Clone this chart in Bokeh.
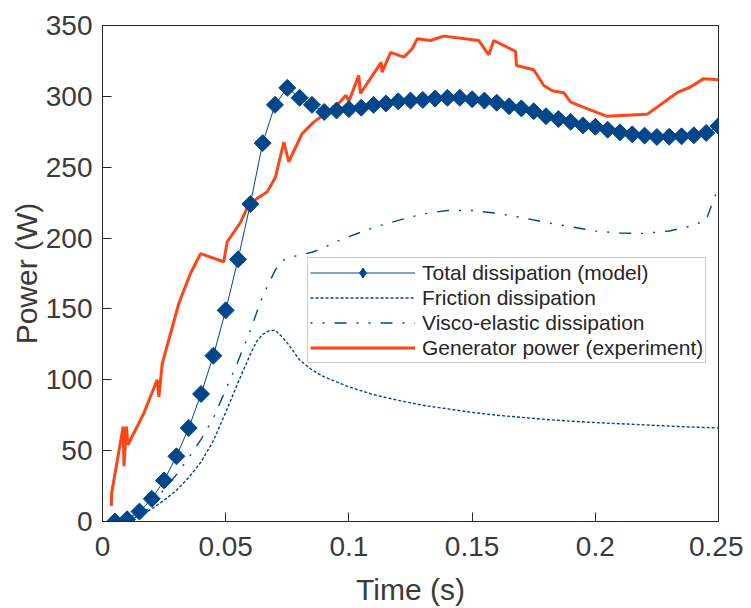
import numpy as np
from bokeh.plotting import figure
from bokeh.models import Range1d, FixedTicker, Legend, LegendItem
from bokeh.embed import file_html
from bokeh.resources import INLINE

# ---- data ----
t_total = [0.005, 0.01, 0.015, 0.02, 0.025, 0.03, 0.035, 0.04, 0.045, 0.05,
           0.055, 0.06, 0.065, 0.07, 0.075, 0.08, 0.085, 0.09, 0.095, 0.1,
           0.105, 0.11, 0.115, 0.12, 0.125, 0.13, 0.135, 0.14, 0.145, 0.15,
           0.155, 0.16, 0.165, 0.17, 0.175, 0.18, 0.185, 0.19, 0.195, 0.2,
           0.205, 0.21, 0.215, 0.22, 0.225, 0.23, 0.235, 0.24, 0.245, 0.25]
total = [0, 1.6, 7, 16, 29, 46, 66, 90, 117, 149,
         185, 224, 267, 294, 306, 299, 294, 289, 290, 291,
         292, 294, 295, 296.5, 297, 297.5, 298.5, 299, 299, 298,
         297, 295.5, 293, 291.5, 289.5, 286, 284, 282, 279.5, 278.5,
         276.5, 274.6, 273.2, 272.3, 271.3, 271.5, 271.8, 272.5, 274.2, 279]

t_fric = [0.005, 0.01, 0.015, 0.02, 0.025, 0.03, 0.035, 0.04, 0.045, 0.05,
          0.055, 0.06, 0.0625, 0.065, 0.0675, 0.07, 0.0725, 0.075, 0.0775, 0.08,
          0.085, 0.09, 0.095, 0.1, 0.11, 0.12, 0.13, 0.14, 0.15, 0.16,
          0.17, 0.18, 0.19, 0.2, 0.21, 0.22, 0.23, 0.24, 0.25]
friction = [0, 1, 4, 9, 15, 22, 31, 42, 57, 77,
            98, 118, 127, 132, 134.5, 135, 131, 126, 120, 114,
            107, 102, 98.5, 95, 89.5, 85.5, 82, 79.5, 77, 75,
            73.5, 72, 70.8, 69.8, 69, 68.2, 67.3, 66.6, 66]

t_visco = [0.005, 0.01, 0.015, 0.02, 0.025, 0.03, 0.035, 0.04, 0.045, 0.05,
           0.055, 0.06, 0.065, 0.07, 0.0725, 0.075, 0.08, 0.085, 0.09, 0.095,
           0.1, 0.11, 0.12, 0.13, 0.14, 0.15, 0.16, 0.17, 0.18, 0.19,
           0.2, 0.21, 0.22, 0.23, 0.24, 0.245, 0.25]
visco = [0, 1, 4, 11, 23, 33, 45, 58, 73, 93,
         113, 135, 159, 177, 183.5, 186, 188, 190, 193.5, 197.5,
         201, 207.5, 212.5, 217, 219.5, 219.5, 217.5, 214.5, 211, 208,
         205, 203.5, 203.3, 205, 209, 213, 236]

t_exp = [0.0036, 0.0037, 0.0084, 0.0087, 0.0097, 0.0103, 0.0168, 0.0222, 0.0229, 0.0242,
         0.031, 0.0357, 0.0398, 0.0492, 0.0506, 0.056, 0.0594, 0.0668, 0.0702, 0.0736,
         0.0756, 0.081, 0.0858, 0.0952, 0.0988, 0.1, 0.104, 0.1047, 0.1131, 0.1135,
         0.1169, 0.1223, 0.1257, 0.1277, 0.1331, 0.1385, 0.1527, 0.1568, 0.1588, 0.1676,
         0.168, 0.175, 0.1791, 0.1825, 0.1872, 0.19, 0.1967, 0.2045, 0.221, 0.2332,
         0.2386, 0.244, 0.25]
experiment = [11, 20, 67, 39, 67, 54, 76.5, 100, 88, 111,
              154, 175, 189, 183.3, 197.4, 211, 224, 232.6, 243, 267.8,
              253.7, 273.7, 282, 293.7, 300.7, 296.5, 314.8, 302, 324, 317,
              331, 327.7, 333.6, 340.6, 339.4, 342.5, 339.4, 329.3, 339.4, 331.7,
              321.8, 318.8, 307.7, 304, 302.6, 296, 291.3, 286, 287.3, 302.6,
              306.6, 312.5, 311.8]

x_ticks = [0, 0.05, 0.1, 0.15, 0.2, 0.25]
x_tick_labels = ["0", "0.05", "0.1", "0.15", "0.2", "0.25"]
y_ticks = [0, 50, 100, 150, 200, 250, 300, 350]

labels = ["Total dissipation (model)", "Friction dissipation",
          "Visco-elastic dissipation", "Generator power (experiment)"]

# ---- styling ----
BLUE = "#00468B"
RED = "#FF4517"
AXC = "#262626"
TXT = "#3a3a3a"
FONT = "Liberation Sans"

p = figure(width=743, height=608, output_backend="svg", toolbar_location=None,
           x_range=Range1d(0, 0.25), y_range=Range1d(0, 350),
           min_border_left=102, min_border_right=25, min_border_top=25,
           min_border_bottom=86, background_fill_color="white",
           border_fill_color="white")
p.grid.visible = False
p.outline_line_color = AXC
p.outline_line_width = 1
p.outline_line_alpha = 1

p.xaxis.ticker = FixedTicker(ticks=x_ticks)
p.xaxis.major_label_overrides = {v: s for v, s in zip(x_ticks, x_tick_labels)}
p.yaxis.ticker = FixedTicker(ticks=y_ticks)

for ax in (p.xaxis, p.yaxis):
    ax.major_tick_in = 9
    ax.major_tick_out = 0
    ax.minor_tick_line_color = None
    ax.axis_line_color = AXC
    ax.major_tick_line_color = AXC
    ax.major_label_text_font = FONT
    ax.major_label_text_font_size = "28px"
    ax.major_label_text_color = TXT
    ax.axis_label_text_font = FONT
    ax.axis_label_text_font_size = "30px"
    ax.axis_label_text_font_style = "normal"
    ax.axis_label_text_color = TXT

p.xaxis.major_label_standoff = 15
p.xaxis.axis_label_standoff = 14
p.yaxis.major_label_standoff = 10
p.yaxis.axis_label_standoff = 0
p.xaxis.axis_label = "Time (s)"
p.yaxis.axis_label = "Power (W)"

r_exp = p.line(t_exp, experiment, line_color=RED, line_width=3)
r_fric = p.line(t_fric, friction, line_color=BLUE, line_width=1.4, line_dash="3 2")
r_visco = p.line(t_visco, visco, line_color=BLUE, line_width=1.4, line_dash="2 10 2 10 12 10")
r_tot = p.line(t_total, total, line_color=BLUE, line_width=1)
# diamond marker (drawn beneath the rotated squares; it gives the legend its diamond)
r_tot_d = p.scatter(t_total, total, marker="diamond", size=12,
                    fill_color=BLUE, line_color=BLUE)
r_tot_m = p.scatter(t_total, total, marker="square", angle=np.pi / 4, size=12,
                    fill_color=BLUE, line_color=BLUE)

legend = Legend(items=[
    LegendItem(label=labels[0], renderers=[r_tot, r_tot_d]),
    LegendItem(label=labels[1], renderers=[r_fric]),
    LegendItem(label=labels[2], renderers=[r_visco]),
    LegendItem(label=labels[3], renderers=[r_exp]),
], location=(205, 158))
legend.margin = 0
legend.padding = 2
legend.spacing = 0
legend.label_height = 25
legend.glyph_height = 25
legend.glyph_width = 105
legend.label_standoff = 7
legend.label_text_font = FONT
legend.label_text_font_size = "21px"
legend.label_text_color = AXC
legend.border_line_color = "#999999"
legend.border_line_width = 1
legend.background_fill_color = "white"
legend.background_fill_alpha = 1
p.add_layout(legend)

open("out.html", "w").write(file_html(p, INLINE))
